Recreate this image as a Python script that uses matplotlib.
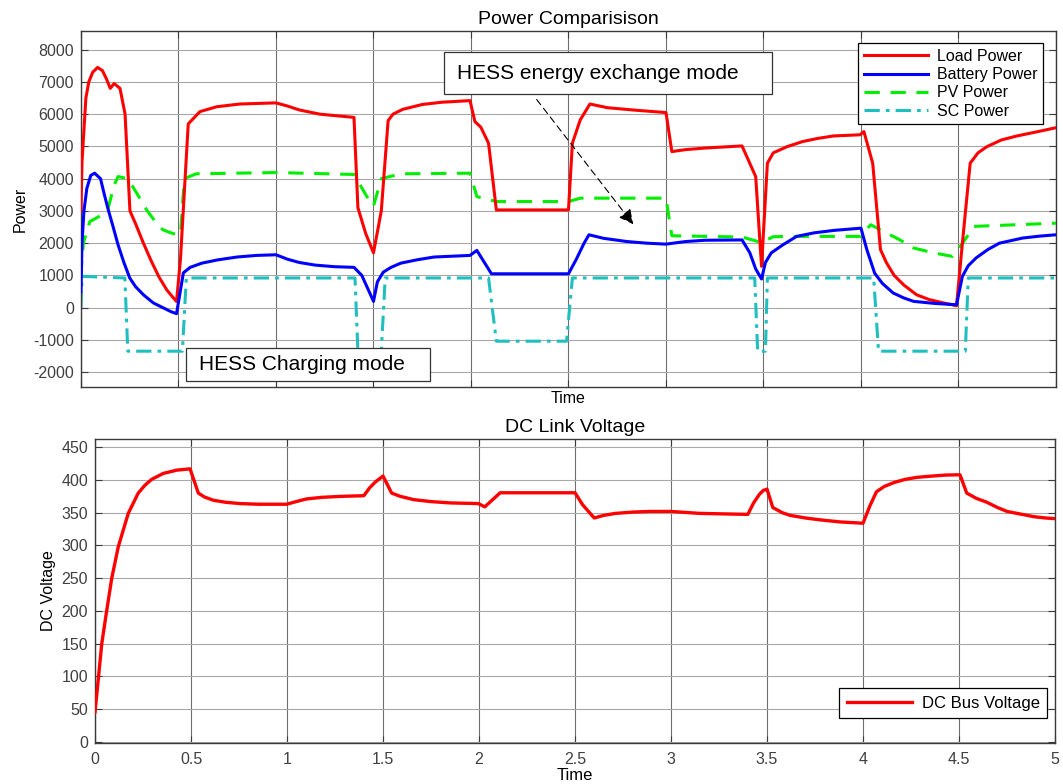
import numpy as np
import matplotlib
matplotlib.use("Agg")
import matplotlib.pyplot as plt
from matplotlib.patches import Rectangle

plt.rcParams["font.family"] = ["Liberation Sans", "DejaVu Sans"]
plt.rcParams["axes.unicode_minus"] = False

# ===========================
# Data
# ===========================

t_load = [0, 0.005, 0.015, 0.025, 0.04, 0.06, 0.085, 0.11, 0.13, 0.15, 0.17, 0.2,
          0.226, 0.251, 0.28, 0.32, 0.36, 0.40, 0.44, 0.47, 0.49, 0.51, 0.55, 0.566,
          0.61, 0.696, 0.815, 1.0, 1.06, 1.12, 1.225, 1.40, 1.42, 1.44, 1.46, 1.50,
          1.54, 1.575, 1.6, 1.65, 1.75, 1.85, 1.995, 2.02, 2.05, 2.09, 2.13, 2.5,
          2.52, 2.56, 2.61, 2.7, 2.85, 3.0, 3.03, 3.1, 3.2, 3.39, 3.46, 3.49, 3.52,
          3.55, 3.62, 3.7, 3.78, 3.86, 3.995, 4.015, 4.06, 4.10, 4.13, 4.17, 4.22,
          4.285, 4.35, 4.42, 4.49, 4.52, 4.56, 4.6, 4.645, 4.72, 4.8, 4.9, 5.0]
p_load = [3000, 4500, 5500, 6500, 7000, 7300, 7450, 7350, 7100, 6800, 6950, 6800,
          6000, 3000, 2600, 2000, 1450, 950, 550, 330, 190, 1500, 5700, 5800,
          6080, 6230, 6315, 6350, 6250, 6130, 6000, 5900, 3100, 2700, 2300, 1700,
          3000, 5800, 6000, 6150, 6300, 6370, 6420, 5770, 5600, 5100, 3030, 3030,
          5100, 5820, 6315, 6200, 6120, 6050, 4840, 4900, 4950, 5015, 4065, 1280, 4480,
          4800, 4990, 5150, 5250, 5325, 5360, 5460, 4480, 1800, 1400, 1000, 700,
          400, 250, 150, 60, 2000, 4480, 4800, 4990, 5200, 5325, 5450, 5580]

t_batt = [0, 0.005, 0.015, 0.03, 0.05, 0.07, 0.1, 0.12, 0.14, 0.165, 0.19, 0.22,
          0.25, 0.28, 0.32, 0.37, 0.42, 0.46, 0.49, 0.525, 0.56, 0.62, 0.7, 0.8,
          0.9, 1.0, 1.06, 1.12, 1.2, 1.3, 1.40, 1.44, 1.47, 1.50, 1.52, 1.55, 1.59,
          1.64, 1.72, 1.81, 1.995, 2.03, 2.105, 2.50, 2.54, 2.58, 2.605, 2.68, 2.8,
          2.9, 3.0, 3.1, 3.2, 3.39, 3.43, 3.46, 3.49, 3.51, 3.54, 3.6, 3.67, 3.76,
          3.86, 4.0, 4.03, 4.07, 4.11, 4.165, 4.22, 4.27, 4.38, 4.49, 4.52, 4.55,
          4.59, 4.65, 4.71, 4.83, 4.92, 5.0]
p_batt = [500, 2000, 3000, 3700, 4100, 4170, 4000, 3500, 3030, 2500, 1950, 1400,
          920, 650, 400, 150, 0, -120, -186, 1080, 1250, 1380, 1480, 1570,
          1620, 1640, 1500, 1400, 1320, 1270, 1250, 1000, 600, 195, 800, 1100, 1250,
          1380, 1480, 1570, 1620, 1775, 1050, 1050, 1500, 2000, 2260, 2150, 2050,
          2000, 1970, 2050, 2090, 2100, 1700, 1200, 890, 1400, 1700, 1950, 2210, 2320,
          2395, 2465, 1800, 1070, 750, 455, 300, 195, 130, 90, 970, 1300,
          1540, 1800, 2000, 2160, 2220, 2260]

t_pv = [0, 0.005, 0.012, 0.045, 0.1, 0.14, 0.17, 0.19, 0.24, 0.285, 0.34, 0.39,
        0.42, 0.47, 0.51, 0.53, 0.59, 1.0, 1.40, 1.48, 1.50, 1.54, 1.64, 1.995,
        2.03, 2.13, 2.50, 2.56, 3.0, 3.03, 3.39, 3.49, 3.55, 3.64, 3.995, 4.05,
        4.12, 4.2, 4.27, 4.37, 4.47, 4.52, 4.58, 5.0]
p_pv = [970, 1500, 2000, 2670, 2850, 3100, 3800, 4065, 4000, 3560, 3000, 2600,
        2415, 2300, 2260, 4000, 4150, 4190, 4130, 3300, 3150, 4000, 4150, 4170,
        3445, 3290, 3290, 3395, 3395, 2230, 2190, 2020, 2200, 2210, 2210, 2570,
        2350, 2100, 1850, 1700, 1590, 1990, 2520, 2620]

t_sc = [0, 0.005, 0.225, 0.24, 0.52, 0.54, 1.405, 1.42, 1.54, 1.56, 2.09, 2.13,
        2.49, 2.52, 3.455, 3.47, 3.51, 3.52, 4.065, 4.09, 4.535, 4.55, 5.0]
p_sc = [0, 970, 920, -1350, -1350, 920, 920, -1350, -1350, 920, 920, -1040,
        -1040, 920, 920, -1350, -1350, 920, 920, -1350, -1350, 920, 920]

t_dc = [0, 0.018, 0.035, 0.061, 0.087, 0.121, 0.173, 0.225, 0.26, 0.295, 0.355,
        0.425, 0.495, 0.538, 0.57, 0.617, 0.68, 0.755, 0.85, 0.998, 1.06, 1.10,
        1.18, 1.28, 1.40, 1.43, 1.46, 1.50, 1.545, 1.59, 1.66, 1.75, 1.85, 1.996,
        2.03, 2.11, 2.50, 2.54, 2.60, 2.65, 2.71, 2.8, 2.89, 3.0, 3.15, 3.40,
        3.43, 3.46, 3.48, 3.50, 3.53, 3.58, 3.62, 3.7, 3.78, 3.88, 4.0, 4.035,
        4.07, 4.11, 4.16, 4.22, 4.28, 4.36, 4.43, 4.505, 4.54, 4.59, 4.645, 4.7,
        4.75, 4.82, 4.89, 4.95, 5.0]
v_dc = [46, 99, 150, 201, 250, 298, 349, 380, 392, 401, 410,
        415, 417, 380, 374, 369, 366, 364, 363, 363, 368, 371,
        373.5, 375, 376, 388, 397, 406, 380, 375, 370, 367, 365, 364,
        359, 380.5, 380.5, 362, 342, 346, 349, 351, 352, 352, 349, 347.5,
        365, 378, 384, 386, 358, 350, 346, 342, 339, 336, 334, 360,
        382, 390, 396, 401, 404, 406, 407.5, 408, 380, 372, 366, 358,
        352, 348, 344, 342, 341]

power_ticks = np.arange(-2000, 8001, 1000)
volt_ticks = np.arange(0, 451, 50)
time_ticks = np.arange(0, 5.01, 0.5)
time_labels = ["0", "0.5", "1", "1.5", "2", "2.5", "3", "3.5", "4", "4.5", "5"]

# ===========================
# Style helpers
# ===========================

tick_color = "#404040"


def style_axes(ax):
    for sp in ax.spines.values():
        sp.set_color("#3a3a3a")
        sp.set_linewidth(1.0)
    ax.tick_params(axis="both", direction="in", top=True, right=True,
                   length=5, width=0.8, color="#3a3a3a",
                   labelsize=11.5, labelcolor=tick_color, pad=5)
    ax.grid(False)
    ax.xaxis.grid(True, color="#6e6e6e", linewidth=0.8)
    ax.yaxis.grid(True, color="#a8a8a8", linewidth=0.8)
    ax.set_axisbelow(True)


fig = plt.figure(figsize=(10.63, 7.84), dpi=100)

# ===========================
# Top: power comparison
# ===========================

ax1 = fig.add_axes([0.0762, 0.5064, 0.9172, 0.4541])
ax1.plot(t_load, p_load, color="#ff0000", lw=2.2, label="Load Power", zorder=4)
ax1.plot(t_batt, p_batt, color="#0000ff", lw=2.2, label="Battery Power", zorder=5)
ax1.plot(t_pv, p_pv, color="#00ee00", lw=2.2, ls=(0, (5, 3.5)), label="PV Power", zorder=3)
ax1.plot(t_sc, p_sc, color="#1fbfbf", lw=2.2, ls=(0, (5, 2, 1.2, 2)), label="SC Power", zorder=2)

ax1.set_xlim(0, 5)
ax1.set_ylim(-2460, 8580)
ax1.set_xticks(time_ticks)
ax1.set_yticks(power_ticks)
style_axes(ax1)
ax1.tick_params(labelbottom=False)
ax1.set_xlabel("Time", fontsize=11.5, labelpad=3)
ax1.set_ylabel("Power", fontsize=11.5, labelpad=4)
ax1.set_title("Power Comparisison", fontsize=14, pad=5)

leg1 = ax1.legend(loc="upper right", bbox_to_anchor=(0.987, 0.965), borderaxespad=0,
                  fontsize=11.5, handlelength=4.0, labelspacing=0.2, handletextpad=0.6,
                  borderpad=0.35, fancybox=False, framealpha=1, edgecolor="black")
leg1.get_frame().set_linewidth(0.9)

# annotation boxes
ax1.add_patch(Rectangle((1.863, 6616), 3.542 - 1.863, 7935 - 6616, facecolor="white",
                        edgecolor="#333333", lw=0.9, zorder=6))
ax1.text(1.927, 7275, "HESS energy exchange mode", fontsize=15, va="center",
         ha="left", zorder=7)
ax1.annotate("", xy=(2.841, 2517), xytext=(2.328, 6523),
             arrowprops=dict(arrowstyle="-|>", linestyle=(0, (6, 4)), color="black",
                             lw=0.8, mutation_scale=22), zorder=7)

ax1.add_patch(Rectangle((0.537, -2260), 1.79 - 0.537, 2260 - 1248, facecolor="white",
                        edgecolor="#333333", lw=0.9, zorder=6))
ax1.text(0.605, -1755, "HESS Charging mode", fontsize=15, va="center",
         ha="left", zorder=7)

# ===========================
# Bottom: DC link voltage
# ===========================

ax2 = fig.add_axes([0.0894, 0.0519, 0.9031, 0.3885])
ax2.plot(t_dc, v_dc, color="#ff0000", lw=2.4, label="DC Bus Voltage", zorder=4)
ax2.set_xlim(0, 5)
ax2.set_ylim(-2, 463)
ax2.set_xticks(time_ticks)
ax2.set_xticklabels(time_labels)
ax2.set_yticks(volt_ticks)
style_axes(ax2)
ax2.tick_params(axis="x", pad=6)
ax2.set_xlabel("Time", fontsize=12, labelpad=1)
ax2.set_ylabel("DC Voltage", fontsize=11.5, labelpad=4)
ax2.set_title("DC Link Voltage", fontsize=14, pad=5)

leg2 = ax2.legend(loc="lower right", bbox_to_anchor=(0.992, 0.082), borderaxespad=0,
                  fontsize=12, handlelength=3.9, handletextpad=0.6, borderpad=0.45,
                  fancybox=False, framealpha=1, edgecolor="black")
leg2.get_frame().set_linewidth(0.9)

fig.savefig("out.png", dpi=100)
